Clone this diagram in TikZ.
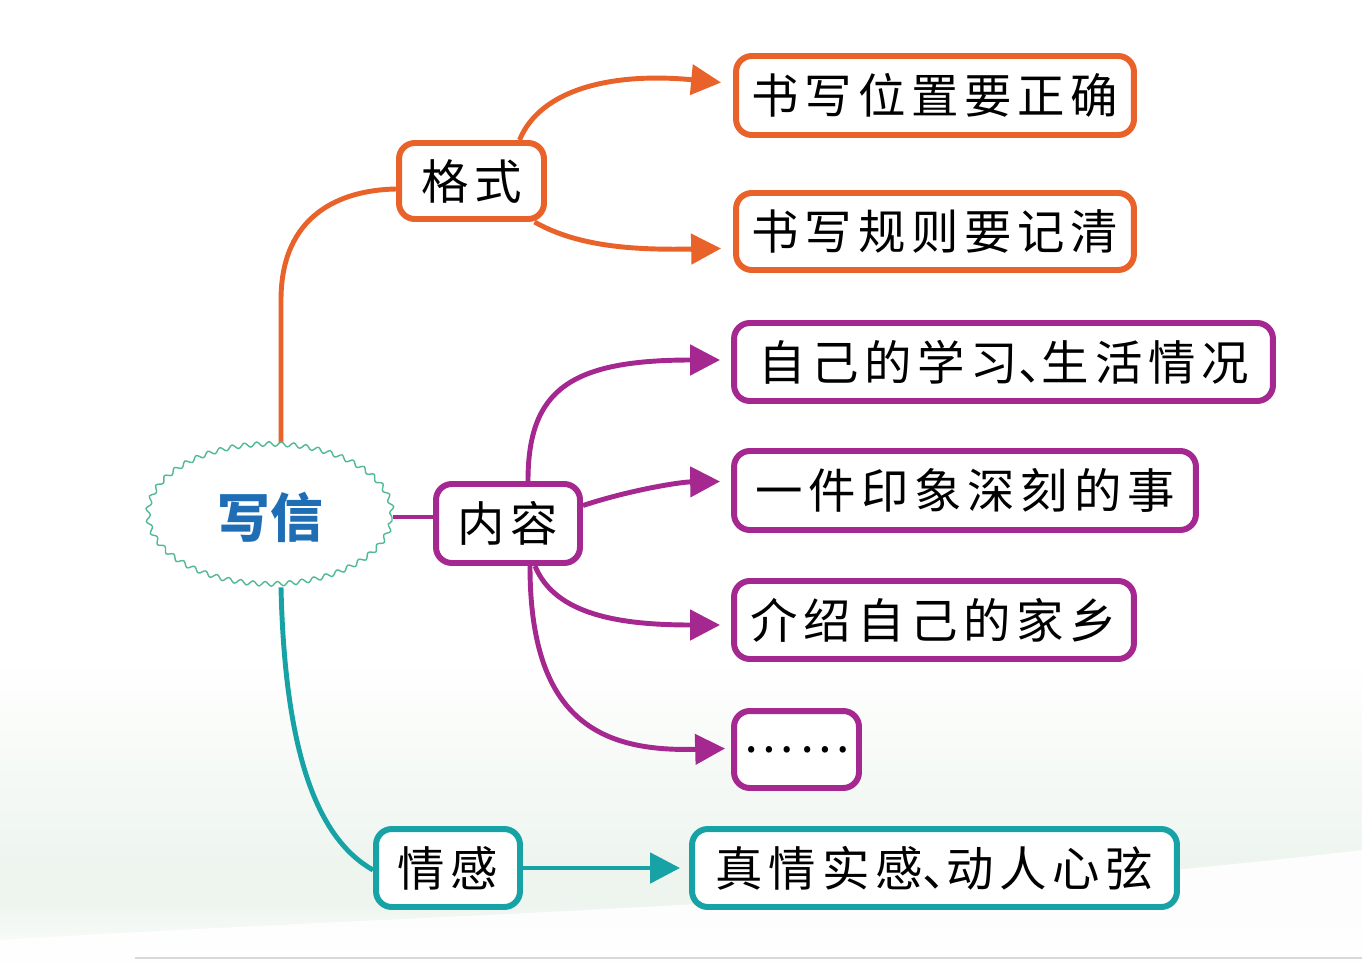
\documentclass[tikz,border=0pt]{standalone}
\usepackage{fontspec}
\usetikzlibrary{arrows.meta,shapes.geometric,decorations.pathmorphing,calc}
\newfontfamily\cjk[LetterSpace=12]{Noto Sans CJK SC}
\newfontfamily\cjkt{Noto Sans CJK SC}
\newcommand{\dun}{\makebox[0.5em][l]{、}}
\definecolor{cor}{HTML}{E8622A}
\definecolor{cpu}{HTML}{A4288F}
\definecolor{cte}{HTML}{17A3A6}
\definecolor{cbl}{HTML}{1E6DB5}
\definecolor{cgr}{HTML}{52B995}
\definecolor{bgg}{HTML}{EEF5EF}
\begin{document}
\begin{tikzpicture}[x=0.02cm,y=-0.02cm,
  box/.style={draw, line width=3.4pt, rounded corners=9pt, fill=white,
    font=\cjk\fontsize{27}{30}\selectfont, inner sep=0pt, anchor=center},
  link/.style={line width=2.8pt},
  arr/.style={link,-{Triangle[length=17pt,width=17pt]}}]
% background
\useasboundingbox (0,0) rectangle (1362,966);
\fill[white] (0,0) rectangle (1362,966);
\shade[top color=white, bottom color=bgg] (0,660) rectangle (1362,860);
\fill[bgg] (0,860) rectangle (1362,905);
\shade[top color=bgg, bottom color=white] (0,905) rectangle (1362,966);
\fill[white, opacity=0.85] (0,940) .. controls (400,915) and (900,905) .. (1362,850) -- (1362,966) -- (0,966) -- cycle;
\draw[black!15, line width=1pt] (135,958) -- (1362,958);

% nodes
\node[ellipse, minimum width=4.9cm, minimum height=2.8cm, inner sep=0pt] (cloud) at (270,517) {};
\node[box, draw=cor, minimum width=2.9cm, minimum height=1.52cm] (geshi) at (471.5,181) {格式};
\node[box, draw=cor, minimum width=7.96cm, minimum height=1.58cm] (b1) at (935,95.5) {书写位置要正确};
\node[box, draw=cor, minimum width=7.96cm, minimum height=1.54cm] (b2) at (935,231.5) {书写规则要记清};
\node[box, draw=cpu, minimum width=2.88cm, minimum height=1.58cm] (neirong) at (508,523.5) {内容};
\node[box, draw=cpu, minimum width=10.78cm, minimum height=1.56cm] (b3) at (1003.5,362) {自己的学习\dun 生活情况};
\node[box, draw=cpu, minimum width=9.24cm, minimum height=1.58cm] (b4) at (965,490.5) {一件印象深刻的事};
\node[box, draw=cpu, minimum width=8.0cm, minimum height=1.56cm] (b5) at (934,620) {介绍自己的家乡};
\node[box, draw=cpu, minimum width=2.5cm, minimum height=1.54cm] (b6) at (796.5,749.5) {……};
\node[box, draw=cte, minimum width=2.88cm, minimum height=1.56cm] (qinggan) at (448,868) {情感};
\node[box, draw=cte, minimum width=9.7cm, minimum height=1.56cm] (b7) at (934.5,868) {真情实感\dun 动人心弦};

% connectors
\draw[link, cor] ($(cloud.north)+(11,0)$) -- (281,300) .. controls (281,215) and (340,190) .. ($(geshi.west)+(0,8)$);
\draw[arr, cor] ($(geshi.north)+(48,0)$) .. controls (540,90) and (610,72) .. ($(b1.west)+(-12,-13)$);
\draw[arr, cor] ($(geshi.south)+(63,0)$) .. controls (580,248) and (640,250) .. ($(b2.west)+(-12,17)$);
\draw[link, cpu] (cloud.east) -- (neirong.west |- cloud.east);
\draw[arr, cpu] ($(neirong.north)+(20,0)$) .. controls (528,390) and (570,360) .. ($(b3.west)+(-11,-2)$);
\draw[arr, cpu] ($(neirong.east)+(0,-18)$) .. controls (630,490) and (680,482) .. ($(b4.west)+(-11,-9)$);
\draw[arr, cpu] ($(neirong.south)+(27,0)$) .. controls (555,615) and (620,625) .. ($(b5.west)+(-11,5)$);
\draw[arr, cpu] ($(neirong.south)+(22,0)$) .. controls (530,720) and (600,752) .. ($(b6.west)+(-6,-1)$);
\draw[link, cte] ($(cloud.south)+(11,0)$) .. controls (285,760) and (320,840) .. ($(qinggan.west)+(0,2)$);
\draw[arr, cte] (qinggan.east) -- ($(b7.west)+(-9,0)$);

% cloud
\draw[cgr, line width=0.8pt, fill=white, decorate, decoration={snake, amplitude=1.3pt, segment length=7pt}] (270,517) ellipse [x radius=2.44cm, y radius=1.40cm];
\node[font=\cjkt\bfseries\fontsize{30}{34}\selectfont, text=cbl] at (cloud.center) {写信};
\end{tikzpicture}
\end{document}
